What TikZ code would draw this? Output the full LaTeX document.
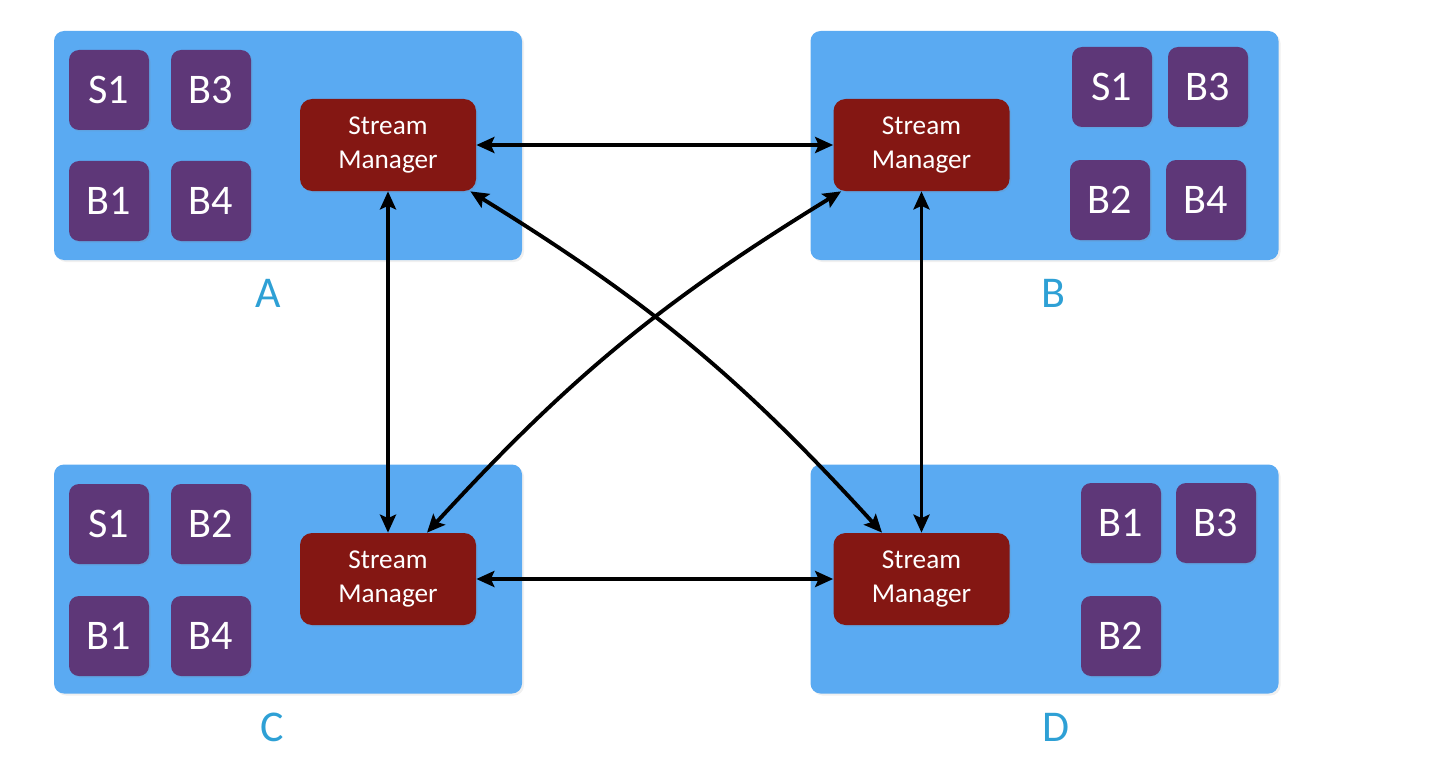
\documentclass[tikz,border=0pt]{standalone}
\usepackage{fontspec}
\setmainfont{Carlito}
\usepackage{tikz}
\usetikzlibrary{arrows.meta,shadows}

\definecolor{hostblue}{RGB}{90,170,242}
\definecolor{instpurple}{RGB}{94,55,120}
\definecolor{smred}{RGB}{132,23,19}
\definecolor{labelblue}{RGB}{46,160,213}

\tikzset{
    host/.style={fill=hostblue,rounded corners=0.2cm,minimum width=9.36cm,minimum height=4.58cm,
        drop shadow={opacity=0.12,shadow xshift=0.4mm,shadow yshift=-0.4mm}},
    inst/.style={fill=instpurple,rounded corners=0.2cm,minimum width=1.6cm,minimum height=1.6cm,
        text=white,font=\fontsize{24}{28}\selectfont,
        drop shadow={opacity=0.15,shadow xshift=0.3mm,shadow yshift=-0.3mm}},
    mgr/.style={fill=smred,rounded corners=0.24cm,minimum width=3.52cm,minimum height=1.84cm,
        text=white,align=center,font=\fontsize{15.5}{19}\selectfont,
        drop shadow={opacity=0.15,shadow xshift=0.3mm,shadow yshift=-0.3mm}},
    hostlabel/.style={text=labelblue,font=\fontsize{25}{29}\selectfont},
    link/.style={draw,line width=2.2pt,{Stealth[length=3.6mm,width=3.2mm,inset=0.7mm]}-{Stealth[length=3.6mm,width=3.2mm,inset=0.7mm]}}
}

\begin{document}
\begin{tikzpicture}
                \useasboundingbox (0,0) rectangle (28.8,15.4);

                \node[host] (hostA) at (5.76,12.49) {};
                \node[host] (hostB) at (20.89,12.49) {};
                \node[host] (hostC) at (5.76,3.82) {};
                \node[host] (hostD) at (20.89,3.82) {};

                \node[hostlabel] (labA) at (5.36,9.54) {A};
                \node[hostlabel] (labB) at (21.06,9.54) {B};
                \node[hostlabel] (labC) at (5.44,0.86) {C};
                \node[hostlabel] (labD) at (21.12,0.86) {D};

                % host A
                \node[inst] (aS1) at (2.18,13.6) {S1};
                \node[inst] (aB3) at (4.22,13.6) {B3};
                \node[inst] (aB1) at (2.18,11.38) {B1};
                \node[inst] (aB4) at (4.22,11.38) {B4};
                \node[mgr] (smA) at (7.76,12.5) {Stream\\Manager};

                % host B
                \node[inst] (bS1) at (22.24,13.66) {S1};
                \node[inst] (bB3) at (24.16,13.66) {B3};
                \node[inst] (bB2) at (22.2,11.4) {B2};
                \node[inst] (bB4) at (24.12,11.4) {B4};
                \node[mgr] (smB) at (18.43,12.5) {Stream\\Manager};

                % host C
                \node[inst] (cS1) at (2.18,4.92) {S1};
                \node[inst] (cB2) at (4.22,4.92) {B2};
                \node[inst] (cB1) at (2.18,2.68) {B1};
                \node[inst] (cB4) at (4.22,2.68) {B4};
                \node[mgr] (smC) at (7.76,3.82) {Stream\\Manager};

                % host D
                \node[inst] (dB1) at (22.42,4.94) {B1};
                \node[inst] (dB3) at (24.32,4.94) {B3};
                \node[inst] (dB2) at (22.42,2.68) {B2};
                \node[mgr] (smD) at (18.43,3.82) {Stream\\Manager};

                \path[link] (smA) -- (smB);
                \path[link] (smC) -- (smD);
                \path[link] (smA) -- (smC);
                \path[link] (smB) -- (smD);

                \path[link] ([xshift=-0.12cm]smA.south east) to[bend left=8] ([xshift=-0.79cm]smD.north);
                \path[link] ([xshift=0.16cm]smB.south west) to[bend right=8] ([xshift=0.78cm]smC.north);

            \end{tikzpicture}
\end{document}
